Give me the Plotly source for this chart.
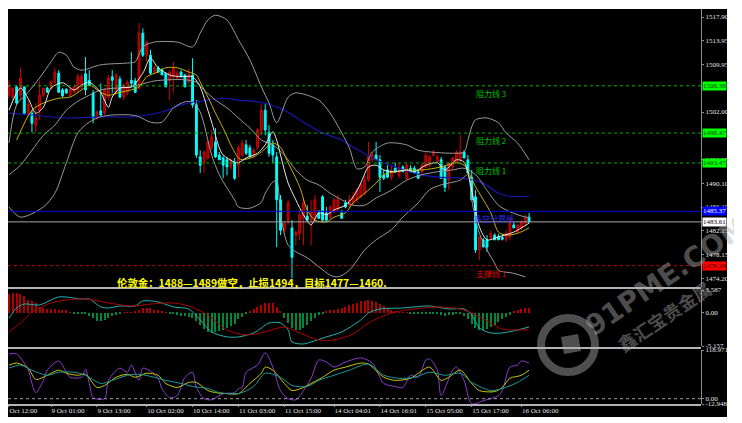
import plotly.graph_objects as go

# ---------------- data ----------------
bar_open = [1504.8,1504.5,1506.2,1504.8,1506.2,1501.8,1501.8,1499.8,1502.3,1504.8,
            1506.0,1506.0,1507.0,1508.5,1505.7,1505.8,1504.8,1505.3,1505.7,1506.2,
            1508.4,1507.3,1505.2,1501.0,1502.2,1501.8,1504.5,1507.9,1505.3,1507.5,
            1504.5,1505.3,1507.3,1507.2,1506.0,1515.2,1511.5,1511.5,1508.7,1509.4,
            1509.0,1508.4,1507.3,1507.9,1507.7,1508.7,1508.2,1507.0,1508.2,1503.2,
            1494.5,1493.5,1494.3,1496.0,1497.0,1494.8,1494.3,1494.0,1492.8,1493.6,
            1493.1,1494.8,1496.5,1496.0,1494.8,1496.1,1499.0,1502.3,1498.6,1496.5,
            1494.5,1487.3,1482.2,1483.9,1482.6,1481.4,1481.7,1484.2,1484.6,1483.9,
            1484.2,1485.1,1487.8,1485.1,1484.4,1485.3,1485.6,1485.1,1486.8,1486.4,
            1486.9,1487.3,1487.8,1488.4,1490.6,1494.0,1494.8,1494.0,1491.4,1492.3,
            1491.1,1492.6,1491.4,1492.8,1490.9,1492.6,1492.6,1492.0,1492.0,1492.8,
            1493.1,1494.8,1493.6,1494.0,1492.8,1490.6,1492.8,1493.6,1494.0,1495.3,
            1494.0,1491.1,1487.8,1478.9,1480.6,1480.6,1480.9,1481.4,1481.1,1481.0,
            1480.6,1481.1,1483.1,1481.9,1482.6,1483.4,1484.4]
bar_high = [1507.3,1506.0,1506.5,1509.4,1506.3,1504.0,1502.3,1503.5,1507.3,1506.0,
            1506.2,1507.3,1509.4,1509.0,1506.0,1506.0,1506.0,1506.5,1508.4,1508.4,
            1511.2,1509.0,1505.7,1502.3,1506.8,1506.0,1508.2,1509.0,1508.5,1508.0,
            1506.8,1507.3,1512.0,1507.7,1516.9,1516.0,1514.0,1512.4,1509.7,1509.7,
            1509.4,1508.7,1509.0,1510.4,1509.0,1509.0,1508.4,1509.2,1511.0,1504.0,
            1495.6,1495.6,1497.3,1499.0,1499.3,1495.3,1494.6,1494.5,1494.3,1494.3,
            1496.5,1497.3,1497.3,1496.5,1496.0,1499.3,1503.2,1503.3,1499.8,1497.3,
            1495.3,1488.1,1483.4,1487.3,1483.9,1482.2,1485.6,1487.6,1486.4,1487.3,
            1488.1,1485.6,1488.1,1486.1,1486.4,1487.6,1488.1,1485.6,1487.3,1488.1,
            1488.6,1489.3,1490.3,1491.4,1497.0,1495.3,1497.0,1494.8,1492.3,1493.1,
            1493.1,1493.5,1493.5,1493.1,1493.6,1493.1,1493.0,1492.3,1493.5,1495.3,
            1494.8,1495.6,1494.8,1494.5,1493.1,1493.5,1494.5,1495.6,1498.1,1495.6,
            1494.8,1492.3,1488.9,1481.1,1480.9,1481.4,1482.2,1481.7,1481.6,1481.5,
            1482.2,1484.2,1483.6,1483.1,1483.9,1484.8,1485.1]
bar_low = [1504.3,1504.0,1503.2,1504.0,1501.5,1501.3,1498.6,1498.5,1500.7,1504.5,
           1505.2,1505.7,1506.7,1505.2,1504.5,1505.0,1504.5,1505.2,1505.2,1505.7,
           1504.8,1506.3,1500.1,1500.7,1501.3,1501.5,1504.0,1505.2,1505.0,1504.3,
           1504.0,1504.8,1506.2,1505.2,1505.7,1511.2,1510.4,1508.2,1508.4,1508.5,
           1508.2,1506.2,1504.0,1505.2,1507.3,1507.9,1506.2,1506.7,1502.7,1494.3,
           1491.8,1491.8,1494.0,1495.6,1494.3,1494.0,1490.9,1491.4,1492.3,1490.6,
           1491.1,1494.5,1494.8,1494.5,1494.3,1495.6,1498.1,1498.1,1494.5,1493.5,
           1479.4,1481.4,1481.9,1483.1,1474.2,1479.7,1480.6,1479.7,1483.9,1479.7,
           1483.9,1484.2,1483.6,1483.6,1483.9,1485.1,1485.3,1484.2,1485.9,1486.1,
           1486.4,1486.9,1487.6,1488.1,1490.3,1493.6,1494.0,1488.6,1490.6,1490.9,
           1490.6,1491.8,1490.9,1492.0,1490.6,1492.0,1491.8,1490.9,1491.4,1492.6,
           1492.8,1494.5,1493.5,1490.9,1488.6,1488.9,1492.3,1493.5,1493.6,1494.3,
           1491.8,1487.3,1478.4,1477.2,1479.4,1478.6,1480.6,1480.6,1480.6,1480.5,
           1480.2,1480.6,1482.6,1481.7,1482.2,1483.1,1483.4]
bar_close = [1506.5,1506.0,1503.5,1507.7,1501.8,1503.3,1500.1,1501.0,1504.8,1506.0,
             1505.3,1507.0,1508.7,1505.3,1504.7,1505.2,1505.8,1506.2,1507.9,1507.9,
             1505.7,1506.5,1501.0,1502.0,1501.5,1505.7,1507.7,1507.3,1508.2,1504.5,
             1506.5,1507.0,1506.8,1505.3,1515.2,1511.5,1513.7,1508.5,1509.4,1508.7,
             1508.2,1506.2,1508.7,1509.5,1508.5,1507.9,1506.2,1508.4,1503.2,1494.8,
             1493.1,1495.3,1497.0,1497.8,1494.5,1494.0,1493.1,1492.8,1494.0,1490.9,
             1496.0,1496.8,1495.1,1494.5,1495.6,1499.0,1502.3,1499.0,1495.1,1494.8,
             1487.3,1482.2,1483.4,1486.8,1477.7,1481.9,1484.8,1486.8,1483.9,1485.3,
             1487.3,1484.2,1483.9,1483.9,1486.1,1487.3,1487.3,1484.2,1486.1,1487.3,
             1487.8,1488.9,1489.8,1490.6,1494.5,1494.8,1494.0,1491.1,1490.9,1491.1,
             1492.3,1492.0,1492.6,1492.0,1493.1,1492.0,1491.8,1490.9,1493.1,1494.8,
             1494.5,1495.3,1494.5,1490.9,1489.4,1493.5,1494.3,1495.3,1495.3,1494.3,
             1491.8,1487.3,1478.9,1481.1,1479.4,1479.4,1481.7,1480.6,1480.6,1480.7,
             1481.7,1483.4,1482.6,1483.1,1483.6,1484.3,1483.6]

# Bollinger bands (upper / middle / lower), read at sampled bars
bb_upper_bar = [0,2,5,8,11,13,15,17,19,24,31,33,35,38,44,48,50,52,54,57,60,63,66,68,70,73,75,
                81,84,87,89,91,93,95,99,104,107,116,119,120,121,122,125,128,130,133,136]
bb_upper = [1496.8,1503.2,1505.3,1507.7,1510.4,1512.0,1511.5,1509.5,1509.0,1509.9,1510.2,1510.4,
            1512.9,1513.7,1513.7,1512.9,1515.2,1517.4,1518.2,1517.4,1514.1,1510.7,1506.2,1503.5,
            1500.2,1504.5,1505.2,1504.0,1501.8,1498.5,1496.0,1492.5,1492.8,1495.3,1496.8,1496.5,
            1495.6,1495.1,1495.3,1497.3,1499.5,1500.7,1501.0,1500.2,1498.5,1496.8,1494.0]
bb_mid_bar = [0,3,6,9,12,15,18,21,24,28,32,35,38,42,46,49,51,54,57,60,63,66,69,72,75,78,81,84,
              87,90,93,96,100,104,108,112,116,119,122,125,128,131,134,136]
bb_mid = [1491.5,1493.1,1495.6,1498.1,1499.8,1502.3,1503.8,1504.8,1505.7,1506.0,1506.2,1506.7,
          1507.2,1507.4,1507.4,1507.0,1505.7,1504.0,1502.7,1501.0,1499.3,1497.3,1496.5,1494.8,
          1492.3,1490.6,1489.8,1488.4,1487.3,1486.4,1486.4,1487.6,1488.9,1490.6,1491.5,1492.0,
          1492.3,1492.6,1491.5,1488.9,1486.4,1485.3,1484.6,1484.3]
bb_lower_bar = [0,3,9,12,15,18,21,24,27,32,34,37,40,43,46,48,50,53,55,57,59,60,63,66,67,69,70,
                71,73,75,78,81,84,86,89,93,96,100,103,107,110,113,118,120,121,123,125,127,128,
                132,135]
bb_lower = [1486.1,1484.4,1486.1,1488.4,1493.5,1498.5,1500.3,1501.2,1501.5,1501.5,1501.2,1500.3,
            1500.3,1502.7,1503.7,1503.7,1502.0,1494.8,1491.5,1489.3,1487.3,1486.1,1485.9,1486.9,
            1488.4,1490.3,1490.5,1484.8,1479.7,1478.6,1477.6,1476.1,1474.7,1474.4,1475.5,1478.9,
            1480.6,1482.3,1484.4,1486.8,1489.0,1489.8,1490.6,1491.5,1487.3,1481.7,1478.9,1476.7,
            1475.5,1475.0,1474.4]
# fast moving average (white)
ma_fast_bar = [0,3,5,7,9,11,14,17,19,21,24,26,27,29,32,35,37,39,42,45,48,50,52,53,55,56,59,60,
               62,65,67,69,70,71,73,75,77,79,81,83,85,88,90,92,94,96,98,101,104,106,109,112,
               114,117,119,121,123,125,128,132,136]
ma_fast = [1502.3,1506.0,1504.3,1501.8,1502.8,1506.0,1506.9,1505.7,1506.5,1507.0,1505.2,1502.8,
           1504.5,1506.0,1506.2,1508.5,1511.0,1509.4,1508.2,1507.9,1507.9,1506.2,1502.3,1500.3,
           1496.0,1494.8,1493.6,1493.5,1494.3,1495.1,1496.5,1498.7,1497.3,1494.8,1490.1,1487.3,
           1484.8,1483.1,1485.1,1484.8,1485.6,1486.4,1487.8,1490.1,1492.8,1493.1,1492.3,1492.0,
           1492.3,1492.0,1493.1,1493.5,1492.3,1494.0,1493.6,1488.9,1482.8,1480.6,1481.1,1481.9,
           1483.4]
# medium moving average (yellow)
ma_mid_bar = [2,6,9,13,16,19,21,24,26,29,32,34,36,39,41,44,47,49,50,52,53,54,56,58,60,61,64,66,
              69,71,73,76,78,80,83,85,88,90,93,96,98,101,104,108,113,117,119,122,126,128,130,
              133,136]
ma_mid = [1497.3,1502.3,1503.5,1504.3,1504.5,1505.7,1506.5,1505.3,1504.8,1505.3,1505.7,1506.2,
          1507.9,1508.7,1509.4,1509.4,1508.7,1508.2,1507.0,1504.5,1503.2,1501.8,1499.3,1496.5,
          1494.3,1494.0,1494.5,1495.3,1496.8,1496.1,1493.5,1489.5,1485.6,1483.9,1483.6,1484.4,
          1485.1,1486.8,1488.4,1490.1,1491.5,1492.0,1492.3,1492.3,1492.8,1493.5,1493.1,1489.5,
          1485.1,1481.9,1481.4,1481.7,1482.6]
# slow moving average (blue)
ma_slow_bar = [0,6,15,24,32,40,45,50,56,60,65,68,72,77,82,87,89,96,102,107,112,119,124,128,131,136]
ma_slow = [1501.8,1501.5,1501.0,1501.2,1501.2,1502.0,1503.2,1503.8,1504.3,1504.0,1503.7,1503.3,
           1502.3,1500.3,1498.5,1497.3,1496.5,1494.0,1492.6,1491.6,1491.1,1490.9,1490.1,1488.4,
           1487.9,1487.9]

# MACD panel
macd_hist = [3.0,3.1,3.1,3.0,2.6,2.0,1.8,1.5,0.9,0.7,0.6,0.6,0.6,0.5,0.5,0.4,
             0.1,-0.05,-0.1,-0.1,-0.1,
             -0.4,-0.8,-1.2,-1.3,-1.1,-0.8,-0.5,-0.3,
             -0.1,0.05,0.1,0.1,0.2,
             0.5,0.8,0.8,0.7,0.5,0.4,
             0.2,0.1,-0.1,-0.2,-0.3,-0.4,-0.5,
             -0.6,-0.8,-1.2,
             -1.9,-2.5,-3.0,-3.1,-3.0,-2.8,-2.6,-2.3,-2.0,-1.7,
             -1.0,-0.6,-0.2,
             0.3,0.6,0.9,1.2,1.5,1.6,1.5,
             1.0,0.3,
             -0.8,-1.5,-2.3,-2.7,-2.6,-2.3,-1.8,-1.3,
             -0.8,-0.3,-0.1,
             0.2,0.4,0.5,0.6,
             0.8,1.0,1.2,1.4,1.6,1.8,1.9,2.0,
             1.9,1.7,1.4,1.1,0.8,0.5,
             0.2,0.1,0.05,0.05,-0.05,-0.1,
             -0.1,-0.15,-0.1,-0.1,-0.15,-0.1,
             -0.3,-0.4,-0.3,-0.3,-0.2,-0.2,
             -0.5,-1.0,-1.7,-2.3,-2.7,-2.7,
             -2.5,-2.2,-1.8,-1.4,-1.0,-0.6,-0.3,
             0.3,0.5,0.6,0.7,0.8]
macd_main_bar = [0,2,4,8,13,19,21,24,26,29,33,35,39,43,47,50,53,57,60,64,66,68,71,73,74,77,79,
                 83,87,92,94,97,103,110,115,119,121,123,126,129,133,136]
macd_main = [-0.78,0.78,1.40,1.25,2.50,2.18,2.18,0.94,0.78,1.09,1.09,1.87,1.72,0.94,0.62,-1.09,
             -2.96,-3.74,-3.74,-3.12,-2.34,-1.56,-1.56,-2.65,-4.52,-4.84,-4.52,-3.74,-2.96,-1.09,
             0.0,0.62,0.78,1.09,0.62,0.62,-0.31,-2.34,-3.12,-3.12,-2.65,-2.18]
macd_signal_bar = [0,3,6,11,15,20,26,32,37,43,47,52,57,62,67,72,76,81,85,90,94,100,106,112,
                   118,121,126,129,133,136]
macd_signal = [-2.96,-1.56,0.16,1.56,2.03,2.18,1.56,1.09,1.40,1.56,1.09,-0.31,-2.65,-3.43,-2.96,
               -2.18,-3.12,-4.21,-4.21,-3.28,-1.56,0.0,0.62,0.94,0.62,0.0,-1.56,-2.50,-2.65,
               -2.65]

# oscillator panel
osc_fast_bar = [0,2,3,5,6,7,9,10,13,15,16,19,20,21,22,25,26,29,31,32,34,35,37,39,40,42,44,46,
                48,49,51,53,56,59,60,61,62,65,67,69,71,73,75,77,79,81,83,85,88,92,95,98,101,
                103,105,107,109,110,112,113,116,117,119,121,124,128,129,131,133,134,136]
osc_fast = [109.5,109.5,99.6,72.2,37.3,14.9,44.8,69.7,92.1,64.7,52.3,52.3,72.2,37.3,2.5,0.0,
            44.8,74.7,64.7,82.1,44.8,74.7,67.2,49.8,24.9,2.5,7.5,52.3,64.7,27.4,0.0,-2.5,12.4,
            14.9,24.9,27.4,64.7,82.1,112.0,77.2,19.9,0.0,-2.5,19.9,49.8,94.6,89.6,77.2,89.6,
            99.6,87.1,37.3,29.9,27.4,57.2,52.3,94.6,97.1,69.7,7.5,69.7,77.2,44.8,-12.4,-5.0,
            7.5,19.9,77.2,82.1,92.1,87.1]
osc_mid_bar = [0,2,5,7,10,13,15,18,20,23,25,28,31,33,36,39,41,44,47,49,52,54,57,60,63,66,67,69,
               72,74,77,79,82,85,88,92,94,98,101,105,107,110,113,115,118,121,123,127,129,131,
               134,136]
osc_mid = [82.1,87.1,74.7,47.3,57.2,69.7,62.2,57.2,59.7,27.4,32.4,52.3,59.7,52.3,62.2,57.2,37.3,
           27.4,39.8,39.8,19.9,14.9,12.4,12.4,37.3,62.2,77.2,69.7,37.3,19.9,27.4,37.3,52.3,69.7,
           77.2,87.1,84.6,52.3,44.8,49.8,62.2,77.2,44.8,52.3,69.7,37.3,19.9,17.4,27.4,49.8,57.2,
           69.7]
osc_slow_bar = [0,3,6,10,13,17,20,24,27,31,34,38,41,45,48,52,55,60,64,67,71,74,78,81,85,89,94,
                98,102,106,110,114,118,121,126,129,133,136]
osc_slow = [74.7,82.1,69.7,57.2,64.7,64.7,57.2,37.3,44.8,57.2,59.7,52.3,44.8,37.3,29.9,24.9,14.9,
            12.4,29.9,62.2,52.3,32.4,29.9,44.8,57.2,69.7,84.6,57.2,49.8,52.3,64.7,57.2,62.2,39.8,
            19.9,24.9,39.8,57.2]

# axes / labels
tick_bars = [0, 11, 23, 36, 48, 60, 72, 85, 97, 109, 121, 134]
tick_text = ["Oct 12:00", "9 Oct 01:00", "9 Oct 13:00", "10 Oct 02:00", "10 Oct 14:00",
             "11 Oct 03:00", "11 Oct 15:00", "14 Oct 04:01", "14 Oct 16:01", "15 Oct 05:00",
             "15 Oct 17:00", "16 Oct 06:00"]
price_ticks = [1517.90, 1513.95, 1509.95, 1502.00, 1494.05, 1490.10, 1486.10, 1482.15,
               1478.15, 1474.20]
resistance_levels = [1506.38, 1498.47, 1493.47]
resistance_names = ["阻力线 3", "阻力线 2", "阻力线 1"]
pivot_level = 1485.37
pivot_name = "多空分界线"
support_level = 1476.28
support_name = "支撑线 1"
last_price = 1483.61
macd_ticks = [3.587, 0.0, -5.157]
macd_tick_text = ["3.587", "0.00", "-5.157"]
osc_ticks = [118.971, 0.0, -12.948]
osc_tick_text = ["118.971", "0.00", "-12.948"]
note_text = "伦敦金：1488—1489做空，止损1494，目标1477—1460."
watermark_en = "91PME.COM"
watermark_cn = "鑫汇宝贵金属"

# ---------------- layout helpers ----------------
# the page body adds an 8px margin, so the figure origin sits at page pixel (8, 8)
OX, OY = 8, 8
W, H = 734, 415
def fx(p):
    return (p - OX) / W
def fy(p):
    return 1 - (p - OY) / H

X_DOM = [fx(8), fx(701)]
X_RANGE = [-0.26, 180.96]
MAIN_RANGE = [1472.71, 1519.24]
AXIS_FONT = dict(family="Liberation Serif", size=7, color="#E6E6E6")
GRAY = "#9A9A9A"

fig = go.Figure()
bars = list(range(len(bar_close)))

fig.add_trace(go.Candlestick(
    x=bars, open=bar_open, high=bar_high, low=bar_low, close=bar_close,
    increasing=dict(line=dict(color="#D00000", width=1), fillcolor="#8B0000"),
    decreasing=dict(line=dict(color="#00FFFF", width=1), fillcolor="#00FFFF"),
    whiskerwidth=0, xaxis="x", yaxis="y", hoverinfo="skip"))

def add_line(xs, ys, color, width=1, xa="x", ya="y"):
    fig.add_trace(go.Scatter(x=xs, y=ys, mode="lines", xaxis=xa, yaxis=ya,
                             line=dict(color=color, width=width, shape="spline", smoothing=0.8),
                             hoverinfo="skip"))

add_line(ma_slow_bar, ma_slow, "#1616B4", 1.2)
add_line(bb_upper_bar, bb_upper, GRAY)
add_line(bb_mid_bar, bb_mid, GRAY)
add_line(bb_lower_bar, bb_lower, GRAY)
add_line(ma_mid_bar, ma_mid, "#C8B400")
add_line(ma_fast_bar, ma_fast, "#E8E8E8")

fig.add_trace(go.Bar(x=bars, y=macd_hist, width=0.3, xaxis="x2", yaxis="y2",
                     marker=dict(color=["#B00000" if v > 0 else "#00873C" for v in macd_hist],
                                 line=dict(width=0)), hoverinfo="skip"))
add_line(macd_main_bar, macd_main, "#22B2B2", 1, "x2", "y2")
add_line(macd_signal_bar, macd_signal, "#B00000", 1, "x2", "y2")

add_line(osc_fast_bar, osc_fast, "#8C3CD0", 1, "x3", "y3")
add_line(osc_mid_bar, osc_mid, "#C8C800", 1, "x3", "y3")
add_line(osc_slow_bar, osc_slow, "#1E9A9A", 1, "x3", "y3")

shapes = [dict(type="rect", xref="paper", yref="paper", x0=fx(8), x1=fx(727), y0=fy(417), y1=fy(9),
               fillcolor="black", line=dict(width=0), layer="below")]
for lv in resistance_levels:
    shapes.append(dict(type="line", xref="paper", yref="y", x0=X_DOM[0], x1=X_DOM[1], y0=lv, y1=lv,
                       line=dict(color="#00B000", width=1, dash="dot")))
shapes.append(dict(type="line", xref="paper", yref="y", x0=X_DOM[0], x1=X_DOM[1],
                   y0=pivot_level, y1=pivot_level, line=dict(color="#0000E6", width=1)))
shapes.append(dict(type="line", xref="paper", yref="y", x0=X_DOM[0], x1=X_DOM[1],
                   y0=last_price, y1=last_price, line=dict(color="#A8A8A8", width=1)))
shapes.append(dict(type="line", xref="paper", yref="y", x0=X_DOM[0], x1=X_DOM[1],
                   y0=support_level, y1=support_level, line=dict(color="#C80000", width=1, dash="dot")))
shapes.append(dict(type="line", xref="paper", yref="y3", x0=X_DOM[0], x1=X_DOM[1], y0=0, y1=0,
                   line=dict(color="#A0A0A0", width=1, dash="dot")))
for sy in (288, 348, 405):
    shapes.append(dict(type="line", xref="paper", yref="paper", x0=X_DOM[0], x1=X_DOM[1],
                       y0=fy(sy), y1=fy(sy), line=dict(color="#B4B4B4", width=2)))
# watermark logo
wm = "rgba(175,175,175,0.45)"
shapes.append(dict(type="circle", xref="paper", yref="paper", x0=fx(541), x1=fx(595),
                   y0=fy(372), y1=fy(318), line=dict(color=wm, width=8)))
shapes.append(dict(type="path", xref="paper", yref="paper",
                   path="M %f %f L %f %f L %f %f L %f %f Z" % (fx(561), fy(337), fx(578), fy(334),
                                                                fx(581), fy(351), fx(564), fy(354)),
                   fillcolor=wm, line=dict(width=0)))

annotations = []
box_font = dict(family="Liberation Serif", size=7)
for lv, name in zip(resistance_levels, resistance_names):
    annotations.append(dict(xref="paper", yref="y", x=fx(702), y=lv, xanchor="left", yanchor="middle",
                            text="%.2f" % lv, showarrow=False, bgcolor="#00FF00", borderpad=0,
                            font=dict(box_font, color="#004000")))
    annotations.append(dict(xref="paper", yref="y", x=fx(474), y=lv, xanchor="left", yanchor="top",
                            text=name, showarrow=False,
                            font=dict(family="Noto Sans CJK SC", size=8, color="#00C000")))
annotations.append(dict(xref="paper", yref="y", x=fx(702), y=pivot_level, xanchor="left",
                        yanchor="middle", text="%.2f" % pivot_level, showarrow=False,
                        bgcolor="#0000FF", borderpad=0, font=dict(box_font, color="white")))
annotations.append(dict(xref="paper", yref="y", x=fx(472), y=pivot_level, xanchor="left",
                        yanchor="top", text=pivot_name, showarrow=False,
                        font=dict(family="Noto Sans CJK SC", size=8, color="#2A2AFF")))
annotations.append(dict(xref="paper", yref="y", x=fx(702), y=last_price, xanchor="left",
                        yanchor="middle", text="%.2f" % last_price, showarrow=False,
                        bgcolor="white", borderpad=0, font=dict(box_font, color="black")))
annotations.append(dict(xref="paper", yref="y", x=fx(702), y=support_level, xanchor="left",
                        yanchor="middle", text="%.2f" % support_level, showarrow=False,
                        bgcolor="#FF0000", borderpad=0, font=dict(box_font, color="#400000")))
annotations.append(dict(xref="paper", yref="y", x=fx(474), y=support_level, xanchor="left",
                        yanchor="top", text=support_name, showarrow=False,
                        font=dict(family="Noto Sans CJK SC", size=8, color="#E00000")))
annotations.append(dict(xref="paper", yref="paper", x=fx(115), y=fy(282.5), xanchor="left",
                        yanchor="middle", text="<b>" + note_text + "</b>", showarrow=False,
                        font=dict(family="Noto Sans CJK SC", size=10.4, color="#FFFF00")))
annotations.append(dict(xref="paper", yref="paper", x=fx(666), y=fy(276), xanchor="center",
                        yanchor="middle", text="<b>" + watermark_en + "</b>", textangle=-34,
                        showarrow=False, font=dict(family="DejaVu Sans", size=28, color=wm)))
annotations.append(dict(xref="paper", yref="paper", x=fx(664), y=fy(316), xanchor="center",
                        yanchor="middle", text="<b>" + watermark_cn + "</b>", textangle=-34,
                        showarrow=False, font=dict(family="Noto Sans CJK SC", size=18, color=wm)))

def yaxis(dom, rng, tv, tt, anchor):
    return dict(domain=dom, range=rng, side="right", anchor=anchor, showgrid=False, zeroline=False,
                showline=True, linecolor="#8C8C8C", linewidth=1, ticks="outside", ticklen=2,
                tickcolor="#8C8C8C", tickvals=tv, ticktext=tt, tickfont=AXIS_FONT, fixedrange=True,
                automargin=False)

def xaxis(anchor, show):
    return dict(domain=X_DOM, range=X_RANGE, anchor=anchor, showgrid=False, zeroline=False,
                showline=False, showticklabels=show, tickvals=tick_bars, ticktext=tick_text,
                ticks="outside" if show else "", ticklen=2, tickcolor="#8C8C8C", tickangle=0,
                tickfont=AXIS_FONT, ticklabelposition="outside right", automargin=False,
                rangeslider=dict(visible=False), fixedrange=True)

fig.update_layout(
    width=W, height=H, margin=dict(l=0, r=0, t=0, b=0, autoexpand=False),
    paper_bgcolor="white", plot_bgcolor="black", showlegend=False, bargap=0,
    xaxis=xaxis("y", False), xaxis2=xaxis("y2", False), xaxis3=xaxis("y3", True),
    yaxis=yaxis([fy(287), fy(9)], MAIN_RANGE, price_ticks, ["%.2f" % v for v in price_ticks], "x"),
    yaxis2=yaxis([fy(346), fy(290)], [-5.157, 3.587], macd_ticks, macd_tick_text, "x2"),
    yaxis3=yaxis([fy(404), fy(350)], [-12.948, 118.971], osc_ticks, osc_tick_text, "x3"),
    shapes=shapes, annotations=annotations, hovermode=False,
)

fig.write_html("out.html")
